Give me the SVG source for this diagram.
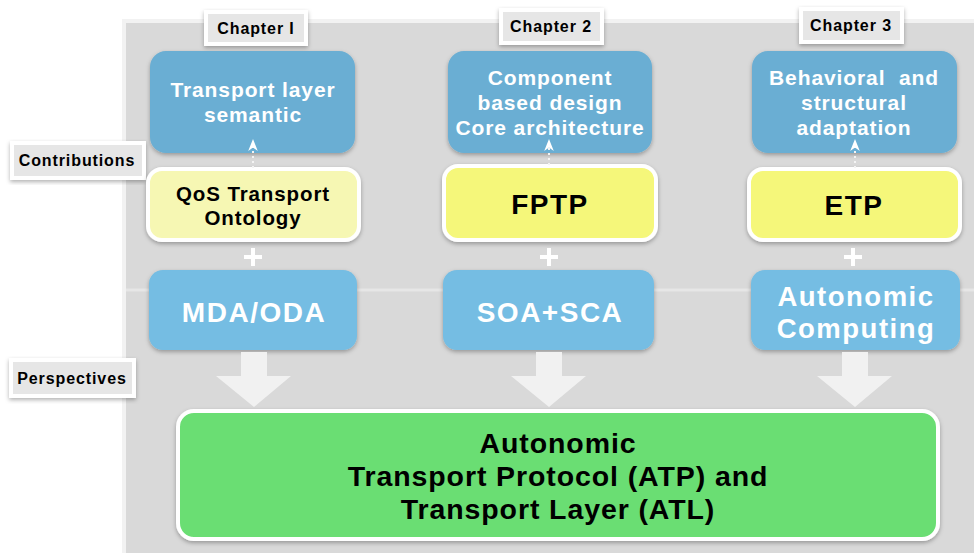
<svg xmlns="http://www.w3.org/2000/svg" width="974" height="553" viewBox="0 0 974 553">
<defs>
<filter id="sh" x="-10%" y="-10%" width="120%" height="130%">
<feDropShadow dx="0" dy="2" stdDeviation="2" flood-color="#000" flood-opacity="0.3"/>
</filter>
<marker id="ah" viewBox="0 0 10 10" refX="5" refY="5" markerWidth="6" markerHeight="6" orient="auto">
<path d="M0,1 L10,5 L0,9 L3,5 Z" fill="#ffffff"/>
</marker>
</defs>
<style>
text{font-family:"Liberation Sans",Arial,sans-serif;font-weight:bold;text-anchor:middle}
.bg{fill:#d9d9d9;stroke:#f2f2f2;stroke-width:4}
.blue{fill:#6aaed3;filter:url(#sh)}
.blue2{fill:#74bde3;filter:url(#sh)}
.ylw{fill:#f6f7b3;stroke:#ffffff;stroke-width:4;filter:url(#sh)}
.ylw2{fill:#f5f77a;stroke:#ffffff;stroke-width:4;filter:url(#sh)}
.grn{fill:#6ade73;stroke:#ffffff;stroke-width:4;filter:url(#sh)}
.tab{fill:#e6e6e6;stroke:#ffffff;stroke-width:4;filter:url(#sh)}
.wt{fill:#ffffff}
.bk{fill:#000000}
.ls1{letter-spacing:0.9px}
.ls2{letter-spacing:1.5px}
.dot{stroke:#f4f4f4;stroke-width:2;stroke-dasharray:2 3;fill:none}
.bigarrow{fill:#f1f1f1}
.plus{stroke:#ffffff;stroke-width:4}
</style>
<rect width="974" height="553" fill="#ffffff"/>
<rect class="bg" x="124" y="21" width="860" height="540"/>
<line x1="126" y1="290" x2="974" y2="290" stroke="#e6e6e6" stroke-width="3"/>

<g id="label-contributions">
<rect class="tab" x="12" y="143" width="132" height="35"/>
<text x="77" y="166" font-size="16" class="bk ls1">Contributions</text>
</g>
<g id="label-perspectives">
<rect class="tab" x="11" y="360" width="123" height="36"/>
<text x="72" y="384" font-size="16" class="bk ls1">Perspectives</text>
</g>

<g id="tab-ch1">
<rect class="tab" x="206" y="12" width="100" height="32"/>
<text x="256" y="34" font-size="16" class="bk ls1">Chapter I</text>
</g>
<g id="tab-ch2">
<rect class="tab" x="501" y="10" width="101" height="33"/>
<text x="551" y="32" font-size="16" class="bk ls1">Chapter 2</text>
</g>
<g id="tab-ch3">
<rect class="tab" x="801" y="9" width="101" height="33"/>
<text x="851" y="31" font-size="16" class="bk ls1">Chapter 3</text>
</g>

<g id="sem1">
<rect class="blue" x="150" y="51" width="205" height="102" rx="16"/>
<text font-size="21" class="wt ls1"><tspan x="253" y="97">Transport layer</tspan><tspan x="253" y="122">semantic</tspan></text>
</g>
<g id="sem2">
<rect class="blue" x="448" y="51" width="204" height="102" rx="16"/>
<text font-size="21" class="wt ls1"><tspan x="550" y="85">Component</tspan><tspan x="550" y="110">based design</tspan><tspan x="550" y="135">Core architecture</tspan></text>
</g>
<g id="sem3">
<rect class="blue" x="752" y="51" width="205" height="102" rx="16"/>
<text font-size="21" class="wt ls1" xml:space="preserve"><tspan x="854" y="85">Behavioral  and</tspan><tspan x="854" y="110">structural</tspan><tspan x="854" y="135">adaptation</tspan></text>
</g>

<g id="qos">
<rect class="ylw" x="148" y="169" width="211" height="71" rx="14"/>
<text font-size="20.5" class="bk ls1"><tspan x="253" y="201">QoS Transport</tspan><tspan x="253" y="225">Ontology</tspan></text>
</g>
<g id="fptp">
<rect class="ylw2" x="444" y="166" width="212" height="74" rx="14"/>
<text x="550" y="214" font-size="28" class="bk ls2">FPTP</text>
</g>
<g id="etp">
<rect class="ylw2" x="749" y="169" width="211" height="71" rx="14"/>
<text x="854" y="215" font-size="28" class="bk ls2">ETP</text>
</g>

<g id="mda">
<rect class="blue2" x="149" y="270" width="208" height="80" rx="14"/>
<text x="254" y="322" font-size="28" class="wt ls2">MDA/ODA</text>
</g>
<g id="soa">
<rect class="blue2" x="443" y="270" width="211" height="80" rx="14"/>
<text x="550" y="322" font-size="28" class="wt ls2">SOA+SCA</text>
</g>
<g id="autonomic">
<rect class="blue2" x="751" y="270" width="209" height="80" rx="14"/>
<text font-size="27.5" class="wt ls2"><tspan x="856" y="306">Autonomic</tspan><tspan x="856" y="338">Computing</tspan></text>
</g>

<g id="atp">
<rect class="grn" x="178" y="411" width="760" height="128" rx="16"/>
<text font-size="28.5" class="bk ls1"><tspan x="558" y="453">Autonomic</tspan><tspan x="558" y="486">Transport Protocol (ATP) and</tspan><tspan x="558" y="519">Transport Layer (ATL)</tspan></text>
</g>

<g id="connectors">
<line class="dot" x1="253" y1="168" x2="253" y2="145" marker-end="url(#ah)"/>
<line class="dot" x1="549" y1="165" x2="549" y2="145" marker-end="url(#ah)"/>
<line class="dot" x1="855" y1="168" x2="855" y2="145" marker-end="url(#ah)"/>
<path class="plus" d="M253,248 V266 M244,257 H262"/>
<path class="plus" d="M549,248 V266 M540,257 H558"/>
<path class="plus" d="M853,248 V266 M844,257 H862"/>
<path class="bigarrow" d="M241,352 H267 V376 H291 L254,407 L216,376 H241 Z"/>
<path class="bigarrow" d="M536,352 H562 V376 H586 L549,407 L511,376 H536 Z"/>
<path class="bigarrow" d="M842,352 H868 V376 H892 L855,407 L817,376 H842 Z"/>
</g>
</svg>
